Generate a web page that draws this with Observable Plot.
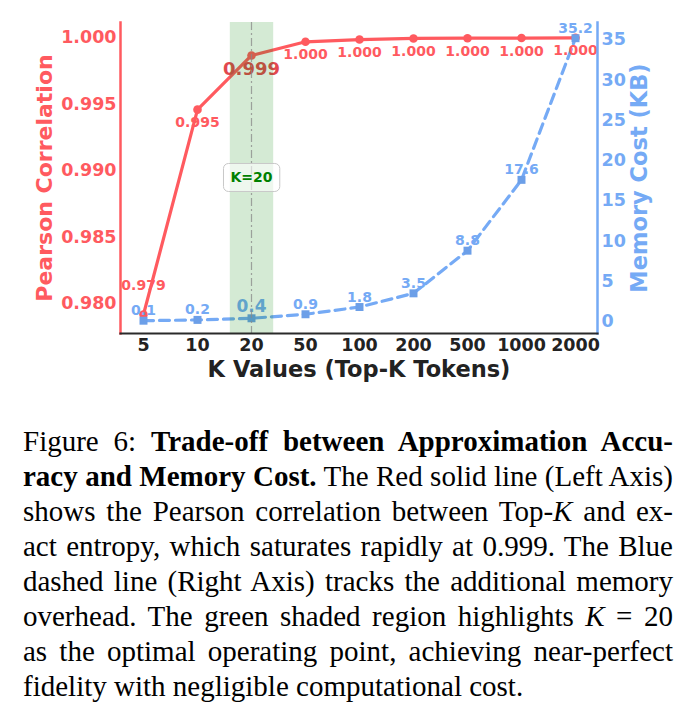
<!DOCTYPE html>
<html>
<head>
<meta charset="utf-8">
<script src="https://cdn.jsdelivr.net/npm/d3@7"></script>
<script src="https://cdn.jsdelivr.net/npm/@observablehq/plot@0.6"></script>
<style>
  html, body { margin: 0; padding: 0; background: #fff; }
  #chart { width: 691px; height: 390px; }
  #caption {
    margin-top: 34px;
    padding-left: 23px;
    width: 650px;
    font-family: "Liberation Serif", "Times New Roman", serif;
    font-size: 29px;
    line-height: 35px;
    color: #000;
  }
  #caption .ln { text-align: justify; text-align-last: justify; white-space: nowrap; }
  #caption .ln.last { text-align-last: left; }
</style>
</head>
<body>
<div id="chart"></div>
<div id="caption"></div>
<script>
// ---- data ----
const kValues = ["5", "10", "20", "50", "100", "200", "500", "1000", "2000"];
const correlation = [0.9792, 0.9946, 0.99867, 0.9997, 0.99987, 0.99995, 0.99997, 0.99998, 1.0000];
const correlationLabels = ["0.979", "0.995", "0.999", "1.000", "1.000", "1.000", "1.000", "1.000", "1.000"];
const memoryKB = [0.1, 0.2, 0.4, 0.9, 1.8, 3.5, 8.8, 17.6, 35.2];
const memoryLabels = ["0.1", "0.2", "0.4", "0.9", "1.8", "3.5", "8.8", "17.6", "35.2"];
const corrTicks = [0.980, 0.985, 0.990, 0.995, 1.000];
const memTicks = [0, 5, 10, 15, 20, 25, 30, 35];
const corrDomain = [0.97777, 1.00115];
const memDomain = [-1.49, 37.15];
const highlightK = "20";
const xTitle = "K Values (Top-K Tokens)";
const leftTitle = "Pearson Correlation";
const rightTitle = "Memory Cost (KB)";

// ---- styles ----
const RED = "#ff5a5f";
const RED_DARK = "#e2484e";
const BLUE = "#75aaf5";
const BLUE_MARK = "#6c9fe8";

const rows = kValues.map((k, i) => ({
  k, corr: correlation[i], corrLabel: correlationLabels[i],
  mem: memoryKB[i], memLabel: memoryLabels[i]
}));

// right axis maps onto the left (y) scale
const memToCorr = d3.scaleLinear().domain(memDomain).range(corrDomain);

const chart = Plot.plot({
  width: 691,
  height: 390,
  marginTop: 22,
  marginBottom: 57,
  marginLeft: 120,
  marginRight: 94,
  style: { fontFamily: "DejaVu Sans", background: "white", overflow: "visible" },
  x: { type: "point", domain: kValues, padding: 0.4 },
  y: { domain: corrDomain },
  marks: [
    // red correlation
    Plot.line(rows, { x: "k", y: "corr", stroke: RED, strokeWidth: 3.2 }),
    Plot.dot(rows, { x: "k", y: "corr", r: 4.3, fill: RED, stroke: "none" }),
    // blue memory
    Plot.line(rows, { x: "k", y: d => memToCorr(d.mem), stroke: BLUE, strokeWidth: 3.2, strokeDasharray: "10,6" }),
    Plot.dot(rows, { x: "k", y: d => memToCorr(d.mem), symbol: "square", r: 4.5, fill: BLUE_MARK, stroke: "none" }),
    // red labels
    Plot.text(rows, { filter: d => d.k !== highlightK && d.k !== kValues[0], x: "k", y: "corr", text: "corrLabel", dy: 13, fill: RED, fontSize: 14, fontWeight: "bold" }),
    Plot.text(rows, { filter: d => d.k === kValues[0], x: "k", y: "corr", text: "corrLabel", dy: -29, fill: RED, fontSize: 14, fontWeight: "bold" }),
    Plot.text(rows, { filter: d => d.k === highlightK, x: "k", y: "corr", text: "corrLabel", dy: 14, fill: RED_DARK, fontSize: 18, fontWeight: "bold" }),
    // blue labels
    Plot.text(rows, { filter: d => d.k !== highlightK, x: "k", y: d => memToCorr(d.mem), text: "memLabel", dy: -10, fill: BLUE, fontSize: 14, fontWeight: "bold" }),
    Plot.text(rows, { filter: d => d.k === highlightK, x: "k", y: d => memToCorr(d.mem), text: "memLabel", dy: -12, fill: BLUE, fontSize: 17, fontWeight: "bold" }),
    // highlight band and dash-dot line
    Plot.ruleX([highlightK], { x: d => d, stroke: "green", strokeOpacity: 0.17, strokeWidth: 43.4 }),
    Plot.ruleX([highlightK], { x: d => d, stroke: "#888", strokeOpacity: 0.75, strokeWidth: 1.2, strokeDasharray: "8,3,2,3" }),
    Plot.text([highlightK], { x: d => d, frameAnchor: "middle", text: d => `K=${d}`, fill: "green", fontSize: 14, fontWeight: "bold" }),
    // axes
    Plot.axisY(corrTicks, { anchor: "left", tickSize: 0, tickPadding: 4, tickFormat: d3.format(".3f"), fill: RED, fontSize: 17.5, fontWeight: "bold", label: null }),
    Plot.axisY(memTicks.map(v => memToCorr(v)), { anchor: "right", tickSize: 0, tickPadding: 4, tickFormat: d => String(Math.round(memToCorr.invert(d))), fill: BLUE, fontSize: 17.5, fontWeight: "bold", label: null }),
    Plot.axisX({ tickSize: 0, tickPadding: 5, fill: "#222", fontSize: 17.5, fontWeight: "bold", label: null }),
    Plot.frame({ anchor: "left", stroke: RED, strokeWidth: 2.5 }),
    Plot.frame({ anchor: "right", stroke: BLUE, strokeWidth: 2.5 }),
    Plot.frame({ anchor: "bottom", stroke: "#2a2a2a", strokeWidth: 2.2 }),
    // titles
    Plot.text([leftTitle], { frameAnchor: "left", textAnchor: "middle", lineAnchor: "middle", text: d => d, rotate: -90, dx: -76, fill: RED, fontSize: 22, fontWeight: "bold" }),
    Plot.text([rightTitle], { frameAnchor: "right", textAnchor: "middle", lineAnchor: "middle", text: d => d, rotate: -90, dx: 42, fill: BLUE, fontSize: 22.5, fontWeight: "bold" }),
    Plot.text([xTitle], { frameAnchor: "bottom", lineAnchor: "middle", text: d => d, dy: 36, fill: "#222", fontSize: 22.5, fontWeight: "bold" })
  ]
});
document.getElementById("chart").append(chart);

// rounded box behind the K label
const kText = Array.from(chart.querySelectorAll("text")).find(t => t.textContent === `K=${highlightK}`);
if (kText) {
  const bb = kText.getBBox();
  const rect = document.createElementNS("http://www.w3.org/2000/svg", "rect");
  const tr = kText.getAttribute("transform");
  rect.setAttribute("x", bb.x - 7);
  rect.setAttribute("y", bb.y - 6);
  rect.setAttribute("width", bb.width + 14);
  rect.setAttribute("height", bb.height + 12);
  rect.setAttribute("rx", 5);
  rect.setAttribute("fill", "white");
  rect.setAttribute("fill-opacity", 0.6);
  rect.setAttribute("stroke", "#c8c8c8");
  rect.setAttribute("stroke-width", 1);
  if (tr) rect.setAttribute("transform", tr);
  kText.parentNode.insertBefore(rect, kText);
}

// caption
const captionLines = [
  'Figure 6: <b>Trade-off between Approximation Accu-</b>',
  '<b>racy and Memory Cost.</b> The Red solid line (Left Axis)',
  'shows the Pearson correlation between Top-<i>K</i> and ex-',
  'act entropy, which saturates rapidly at 0.999. The Blue',
  'dashed line (Right Axis) tracks the additional memory',
  'overhead. The green shaded region highlights <i>K</i> = 20',
  'as the optimal operating point, achieving near-perfect',
  'fidelity with negligible computational cost.'
];
const cap = document.getElementById("caption");
captionLines.forEach((html, i) => {
  const div = document.createElement("div");
  div.className = "ln" + (i === captionLines.length - 1 ? " last" : "");
  div.innerHTML = html;
  cap.appendChild(div);
});
</script>
</body>
</html>
